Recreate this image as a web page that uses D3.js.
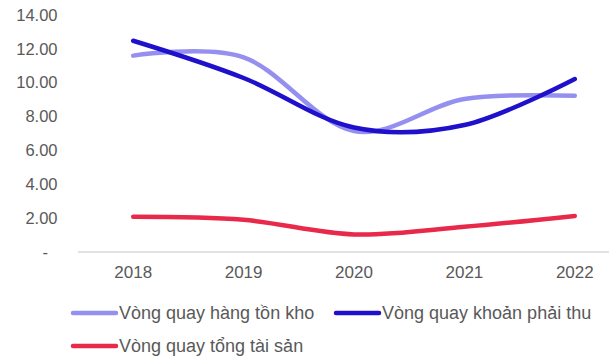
<!DOCTYPE html>
<html>
<head>
<meta charset="utf-8">
<script src="https://cdnjs.cloudflare.com/ajax/libs/d3/7.8.5/d3.min.js"></script>
<style>
  body { margin: 0; background: #fff; }
  svg { font-family: "Liberation Sans", Arial, sans-serif; }
</style>
</head>
<body>
<div id="chart"></div>
<script>
// turnover ratios 2018-2022
var years = ["2018", "2019", "2020", "2021", "2022"];
var inventoryTurnover = [11.6, 11.5, 7.15, 9.04, 9.23];
var receivableTurnover = [12.48, 10.28, 7.35, 7.5, 10.22];
var assetTurnover = [2.08, 1.9, 1.04, 1.49, 2.13];
var yTicks = [0, 2, 4, 6, 8, 10, 12, 14];

var seriesNames = ["Vòng quay hàng tồn kho", "Vòng quay khoản phải thu", "Vòng quay tổng tài sản"];
var seriesColors = ["#9590f0", "#1f10cc", "#e8294a"];

var series = [inventoryTurnover, receivableTurnover, assetTurnover].map(function(v, i) {
    return {name: seriesNames[i], color: seriesColors[i], values: v};
});

var width = 609, height = 356;

var svg = d3.select("#chart").append("svg")
    .attr("width", width)
    .attr("height", height);

// scales
var x = d3.scaleBand()
    .domain(years)
    .range([78, 630]);

var y = d3.scaleLinear()
    .domain([0, 14])
    .range([252, 15]);

// y axis labels
svg.append("g")
    .selectAll("text")
    .data(yTicks)
    .enter().append("text")
    .attr("x", function(d) { return d === 0 ? 48 : 57.5; })
    .attr("y", function(d) { return y(d); })
    .attr("dy", "0.35em")
    .attr("text-anchor", "end")
    .attr("fill", "#595959")
    .style("font-size", "16.5px")
    .text(function(d) { return d === 0 ? "-" : d3.format(".2f")(d); });

// x axis line
svg.append("line")
    .attr("x1", 78)
    .attr("x2", 630)
    .attr("y1", y(0))
    .attr("y2", y(0))
    .attr("stroke", "#d9d9d9")
    .attr("stroke-width", 1.5);

svg.append("g")
    .selectAll("text")
    .data(years)
    .enter().append("text")
    .attr("x", function(d) { return x(d) + x.bandwidth() / 2; })
    .attr("y", 272)
    .attr("dy", "0.35em")
    .attr("text-anchor", "middle")
    .attr("fill", "#595959")
    .style("font-size", "17px")
    .text(function(d) { return d; });

// lines
var line = d3.line()
    .x(function(d, i) { return x(years[i]) + x.bandwidth() / 2; })
    .y(function(d) { return y(d); })
    .curve(d3.curveCardinal.tension(0));

svg.append("g")
    .selectAll("path")
    .data(series)
    .enter().append("path")
    .attr("d", function(d) { return line(d.values); })
    .attr("fill", "none")
    .attr("stroke", function(d) { return d.color; })
    .attr("stroke-width", 4.5)
    .attr("stroke-linecap", "round");

// legend
var legendPos = [[73, 313], [336, 313], [73, 346]];

var legend = svg.append("g")
    .selectAll("g")
    .data(series)
    .enter().append("g")
    .attr("transform", function(d, i) { return "translate(" + legendPos[i][0] + "," + legendPos[i][1] + ")"; });

legend.append("line")
    .attr("x1", 0)
    .attr("x2", 43)
    .attr("stroke", function(d) { return d.color; })
    .attr("stroke-width", 4.5)
    .attr("stroke-linecap", "round");

legend.append("text")
    .attr("x", 46)
    .attr("dy", "0.35em")
    .attr("fill", "#595959")
    .style("font-size", "18px")
    .text(function(d) { return d.name; });
</script>
</body>
</html>
